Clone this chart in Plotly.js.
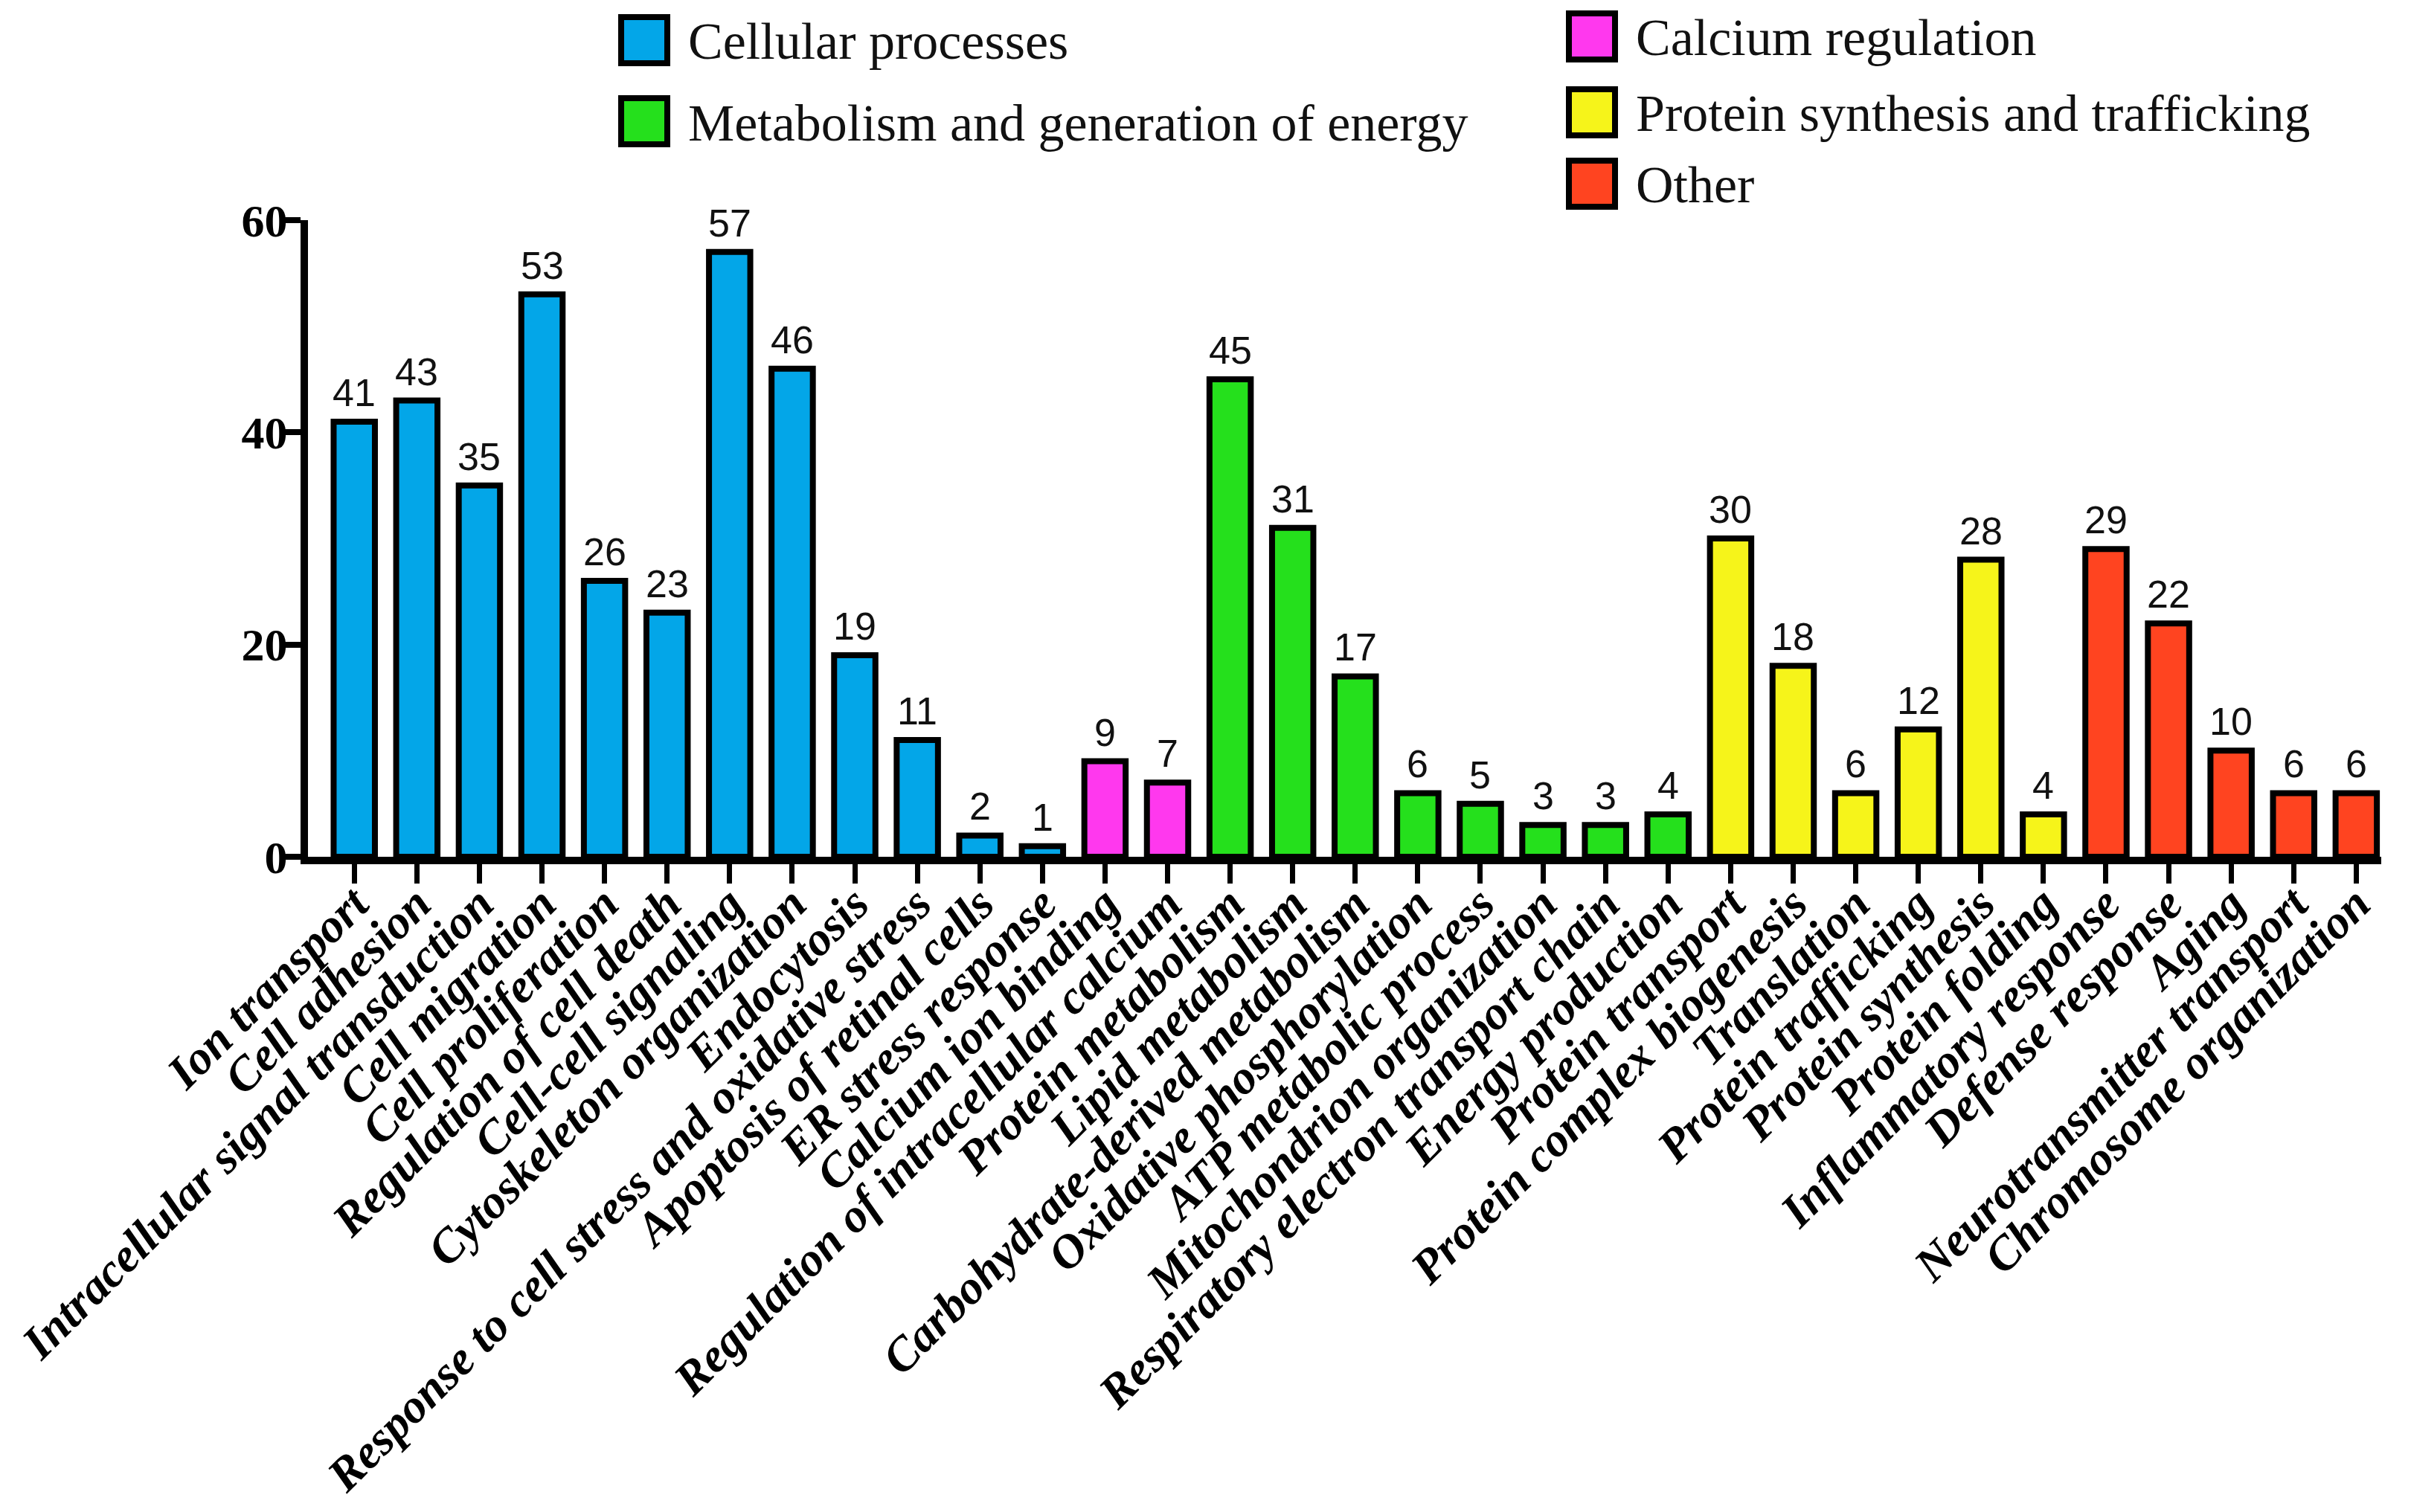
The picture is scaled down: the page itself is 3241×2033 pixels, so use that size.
<!DOCTYPE html>
<html>
<head>
<meta charset="utf-8">
<script src="https://cdn.plot.ly/plotly-3.0.1.min.js"></script>
<style>
html,body{margin:0;padding:0;background:#fff;}
#chart{width:3241px;height:2033px;}
</style>
</head>
<body>
<div id="chart"></div>
<script>
// ---- data ----
const categories = [
  "Ion transport","Cell adhesion","Intracellular signal transduction","Cell migration",
  "Cell proliferation","Regulation of cell death","Cell-cell signaling","Cytoskeleton organization",
  "Endocytosis","Response to cell stress and oxidative stress","Apoptosis of retinal cells","ER stress response",
  "Calcium ion binding","Regulation of intracellular calcium",
  "Protein metabolism","Lipid metabolism","Carbohydrate-derived metabolism","Oxidative phosphorylation",
  "ATP metabolic process","Mitochondrion organization","Respiratory electron transport chain","Energy production",
  "Protein transport","Protein complex biogenesis","Translation","Protein trafficking","Protein synthesis","Protein folding",
  "Inflammatory response","Defense response","Aging","Neurotransmitter transport","Chromosome organization"
];
const values = [41,43,35,53,26,23,57,46,19,11,2,1, 9,7, 45,31,17,6,5,3,3,4, 30,18,6,12,28,4, 29,22,10,6,6];
const groupOf = [0,0,0,0,0,0,0,0,0,0,0,0, 1,1, 2,2,2,2,2,2,2,2, 3,3,3,3,3,3, 4,4,4,4,4];
const groupNames = ["Cellular processes","Calcium regulation","Metabolism and generation of energy","Protein synthesis and trafficking","Other"];
const groupColors = ["#03A6E8","#FF38EE","#25E01C","#F6F41A","#FF4420"];
const yTicks = [0,20,40,60];

// ---- traces ----
const traces = groupNames.map((name, g) => {
  const xs = [], ys = [];
  categories.forEach((c, i) => { if (groupOf[i] === g) { xs.push(c); ys.push(values[i]); } });
  return {
    type: 'bar', name: name, x: xs, y: ys,
    marker: {color: groupColors[g], line: {color: '#000', width: 8}},
    showlegend: false, hoverinfo: 'x+y'
  };
});

// ---- layout geometry (pixels) ----
const W = 3241, H = 2033;
const L = 414, R = 3201, T = 296, B = 1152;
const px2x = p => (p - L) / (R - L);
const py2y = p => (B - p) / (B - T);

const shapes = [], annotations = [];

// value labels above bars (data coordinates)
categories.forEach((c, i) => {
  annotations.push({x: c, y: values[i], xref: 'x', yref: 'y', text: String(values[i]),
    showarrow: false, xanchor: 'center', yanchor: 'bottom', yshift: 8,
    font: {family: 'Liberation Sans, Arial, sans-serif', size: 52, color: '#111'}});
});

// manual legend (large swatches as in reference)
const legendItems = [
  {g:0, bx:831, cy:54},
  {g:2, bx:831, cy:163},
  {g:1, bx:2105, cy:49},
  {g:3, bx:2105, cy:151},
  {g:4, bx:2105, cy:247}
];
legendItems.forEach(it => {
  shapes.push({type:'rect', xref:'paper', yref:'paper',
    x0: px2x(it.bx+4), x1: px2x(it.bx+66), y0: py2y(it.cy+31), y1: py2y(it.cy-31),
    fillcolor: groupColors[it.g], line:{color:'#000', width:8}});
  annotations.push({xref:'paper', yref:'paper', x: px2x(it.bx+92), y: py2y(it.cy+2),
    xanchor:'left', yanchor:'middle', showarrow:false, text: groupNames[it.g],
    font:{family:'Liberation Serif, Times New Roman, serif', size:70, color:'#111'}});
});

const layout = {
  width: W, height: H,
  margin: {l: L, r: W - R, t: T, b: H - B, pad: 0},
  paper_bgcolor: '#fff', plot_bgcolor: '#fff',
  barmode: 'relative', bargap: 0.34,
  showlegend: false,
  xaxis: {
    type: 'category', categoryorder: 'array', categoryarray: categories,
    range: [-0.74, 32.4],
    showline: true, linecolor: '#000', linewidth: 10,
    ticks: 'outside', ticklen: 26, tickwidth: 7, tickcolor: '#000',
    tickangle: -45, showgrid: false, zeroline: false, ticklabelstandoff: -36,
    tickfont: {family: 'Liberation Serif, Times New Roman, serif', size: 64, color: '#000', weight: 'bold', style: 'italic'}
  },
  yaxis: {
    range: [0, 60], tickvals: yTicks, ticktext: yTicks.map(String),
    showline: true, linecolor: '#000', linewidth: 10,
    ticks: 'outside', ticklen: 26, tickwidth: 8, tickcolor: '#000',
    showgrid: false, zeroline: false, ticklabelstandoff: -21,
    tickfont: {family: 'Liberation Serif, Times New Roman, serif', size: 62, color: '#000', weight: 'bold'}
  },
  shapes: shapes,
  annotations: annotations
};

Plotly.newPlot('chart', traces, layout, {staticPlot: true, displayModeBar: false});
</script>
</body>
</html>
